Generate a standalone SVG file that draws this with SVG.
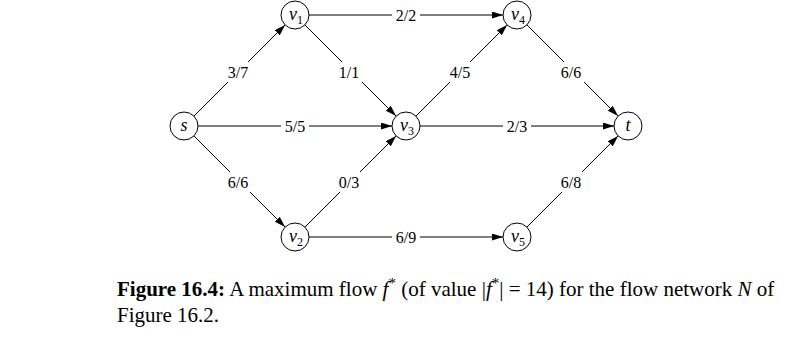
<svg xmlns="http://www.w3.org/2000/svg" width="790" height="340" viewBox="0 0 790 340">
<defs>
<marker id="arr" markerUnits="userSpaceOnUse" markerWidth="12" markerHeight="8" refX="11" refY="3.5" orient="auto">
<path d="M0,0 L11,3.5 L0,7 z" fill="#000"/>
</marker>
<style>
.edge{stroke:#000;stroke-width:1;fill:none;marker-end:url(#arr)}
.node circle{fill:#fff;stroke:#000;stroke-width:1}
.lbl rect{fill:#fff}
</style>
</defs>
<rect width="790" height="340" fill="#fff"/>
<g id="connectors">
<line class="edge" x1="193.9" y1="116.1" x2="285.1" y2="24.9"/>
<line class="edge" x1="304.9" y1="24.9" x2="396.1" y2="116.1"/>
<line class="edge" x1="309" y1="15" x2="503" y2="15"/>
<line class="edge" x1="198" y1="126" x2="392" y2="126"/>
<line class="edge" x1="193.9" y1="135.9" x2="285.1" y2="227.1"/>
<line class="edge" x1="304.9" y1="227.1" x2="396.1" y2="135.9"/>
<line class="edge" x1="415.9" y1="116.1" x2="507.1" y2="24.9"/>
<line class="edge" x1="420" y1="126" x2="614" y2="126"/>
<line class="edge" x1="526.9" y1="24.9" x2="618.1" y2="116.1"/>
<line class="edge" x1="309" y1="237" x2="503" y2="237"/>
<line class="edge" x1="526.9" y1="227.1" x2="618.1" y2="135.9"/>
<g class="lbl" font-family="'Liberation Serif', serif" font-size="16" text-anchor="middle" fill="#000">
<rect x="225" y="62" width="26" height="20"/><text x="238" y="77.5">3/7</text>
<rect x="336" y="62" width="26" height="20"/><text x="349" y="77.5">1/1</text>
<rect x="392" y="7" width="28" height="16"/><text x="406" y="20.5">2/2</text>
<rect x="447" y="62" width="26" height="20"/><text x="460" y="77.5">4/5</text>
<rect x="558" y="62" width="26" height="20"/><text x="571" y="77.5">6/6</text>
<rect x="281" y="118" width="28" height="16"/><text x="295" y="131.5">5/5</text>
<rect x="503" y="118" width="28" height="16"/><text x="517" y="131.5">2/3</text>
<rect x="225" y="172" width="26" height="20"/><text x="238" y="187.5">6/6</text>
<rect x="336" y="172" width="26" height="20"/><text x="349" y="187.5">0/3</text>
<rect x="558" y="172" width="26" height="20"/><text x="571" y="187.5">6/8</text>
<rect x="392" y="229" width="28" height="16"/><text x="406" y="242.5">6/9</text>
</g>
</g>
<g font-family="'Liberation Serif', serif" font-size="18" fill="#000" text-anchor="middle">
<g id="s" class="node"><circle cx="184" cy="126" r="14"/><text x="184" y="131" font-style="italic">s</text></g>
<g id="v1" class="node"><circle cx="295" cy="15" r="14"/><text x="296" y="20"><tspan font-style="italic">v</tspan><tspan font-size="12" dy="4">1</tspan></text></g>
<g id="v2" class="node"><circle cx="295" cy="237" r="14"/><text x="296" y="242"><tspan font-style="italic">v</tspan><tspan font-size="12" dy="4">2</tspan></text></g>
<g id="v3" class="node"><circle cx="406" cy="126" r="14"/><text x="407" y="131"><tspan font-style="italic">v</tspan><tspan font-size="12" dy="4">3</tspan></text></g>
<g id="v4" class="node"><circle cx="517" cy="15" r="14"/><text x="518" y="20"><tspan font-style="italic">v</tspan><tspan font-size="12" dy="4">4</tspan></text></g>
<g id="v5" class="node"><circle cx="517" cy="237" r="14"/><text x="518" y="242"><tspan font-style="italic">v</tspan><tspan font-size="12" dy="4">5</tspan></text></g>
<g id="t" class="node"><circle cx="628" cy="126" r="14"/><text x="628" y="131" font-style="italic">t</text></g>
</g>
<g id="caption" font-family="'Liberation Serif', serif" font-size="21" fill="#000">
<text x="117" y="296"><tspan font-weight="bold">Figure 16.4:</tspan> A maximum flow <tspan font-style="italic">f</tspan><tspan font-size="15" dy="-8">*</tspan><tspan dy="8"> (of value |</tspan><tspan font-style="italic">f</tspan><tspan font-size="15" dy="-8">*</tspan><tspan dy="8">| = 14) for the flow network </tspan><tspan font-style="italic">N</tspan> of</text>
<text x="117" y="322">Figure 16.2.</text>
</g>
</svg>
